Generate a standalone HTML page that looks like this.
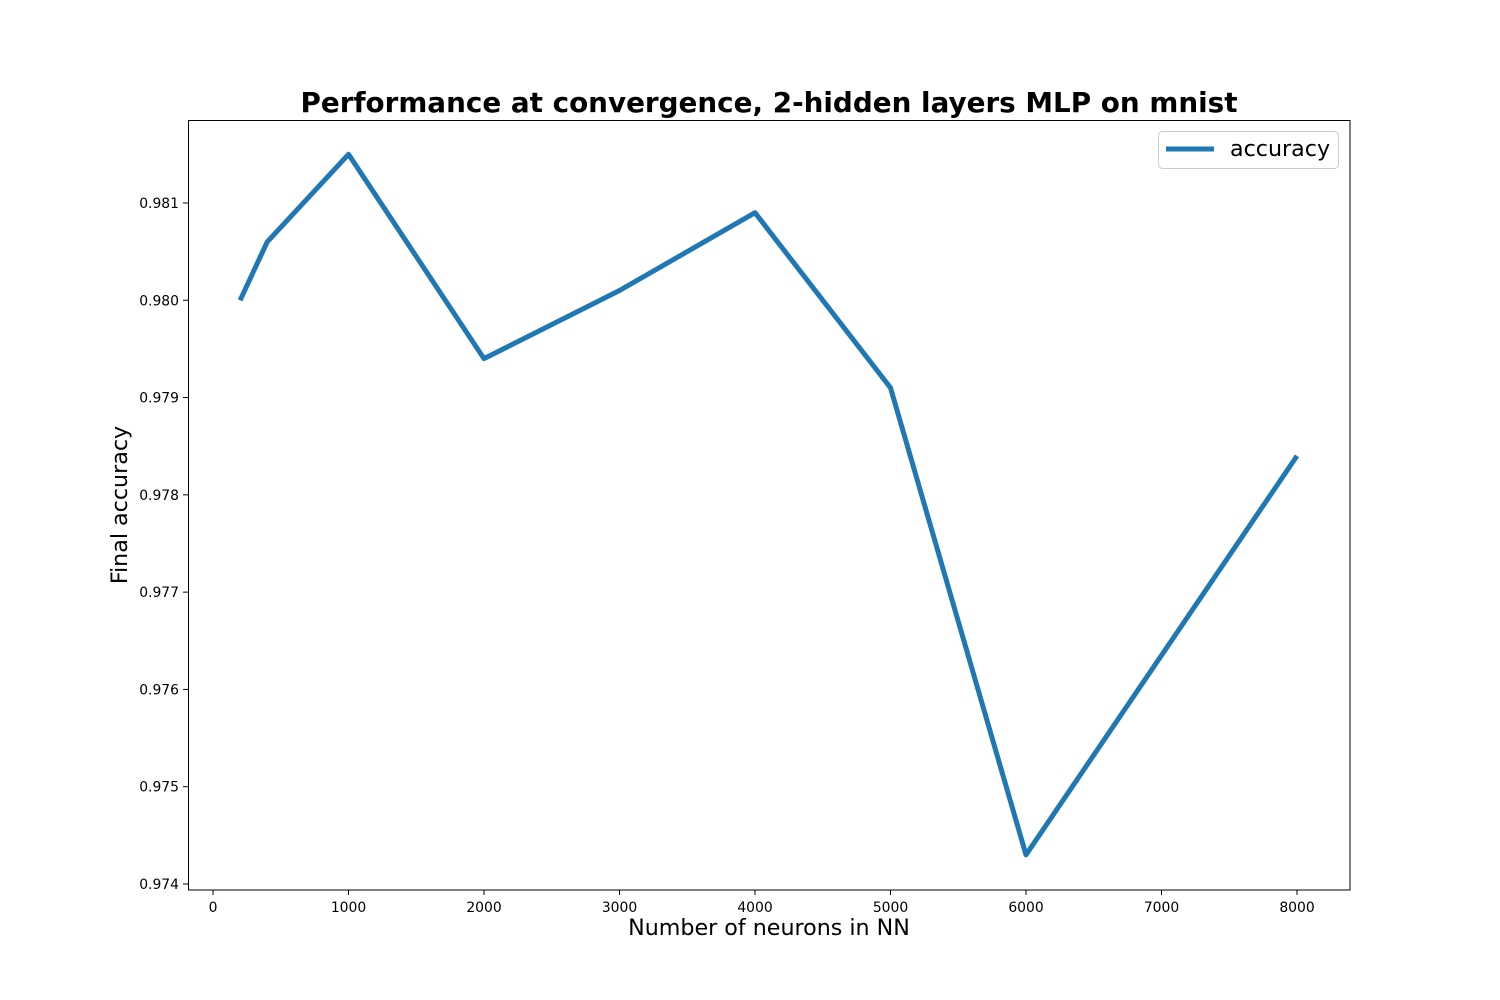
<!DOCTYPE html>
<html><head><meta charset="utf-8"><style>
html,body{margin:0;padding:0;background:#fff;}
svg{display:block;font-family:"DejaVu Sans","Liberation Sans",sans-serif;}
</style></head><body>
<svg id="chart" width="1500" height="1000" xmlns="http://www.w3.org/2000/svg">
<text x="769" y="112" text-anchor="middle" font-size="27.8" font-weight="bold">Performance at convergence, 2-hidden layers MLP on mnist</text>
<rect x="188.5" y="120.5" width="1161.5" height="769.5" fill="none" stroke="#000" stroke-width="1"/>
<g id="xticks"></g>
<g id="yticks"></g>
<polyline id="line" fill="none" stroke="#1f77b4" stroke-width="5" stroke-linejoin="round"/>
<text x="769" y="935" text-anchor="middle" font-size="22.2">Number of neurons in NN</text>
<text transform="translate(127,505) rotate(-90)" text-anchor="middle" font-size="22.2">Final accuracy</text>
<g>
<rect x="1158.5" y="131.5" width="180" height="37" rx="4" fill="#fff" stroke="#ccc"/>
<line x1="1166" y1="149" x2="1214" y2="149" stroke="#1f77b4" stroke-width="5"/>
<text x="1230" y="156" font-size="22.2">accuracy</text>
</g>
</svg>
<script>
const xValues = [200, 400, 1000, 2000, 3000, 4000, 5000, 6000, 8000];
const accuracy = [0.9800, 0.9806, 0.9815, 0.9794, 0.9801, 0.9809, 0.9791, 0.9743, 0.9784];
const xTicks = [0, 1000, 2000, 3000, 4000, 5000, 6000, 7000, 8000];
const yTicks = [0.974, 0.975, 0.976, 0.977, 0.978, 0.979, 0.980, 0.981];

const ns = "http://www.w3.org/2000/svg";
function xs(v){ return 213 + v * 0.1355; }
function ys(v){ return 884 - (v - 0.974) * 97290; }

const pts = xValues.map((x,i)=> xs(x).toFixed(1)+","+ys(accuracy[i]).toFixed(1)).join(" ");
document.getElementById("line").setAttribute("points", pts);

const xg = document.getElementById("xticks");
xTicks.forEach(t=>{
  const l = document.createElementNS(ns,"line");
  
  
  l.setAttribute("x1", xs(t)); l.setAttribute("x2", xs(t));
  l.setAttribute("y1", 890); l.setAttribute("y2", 895);
  l.setAttribute("stroke","#000");
  xg.appendChild(l);
  const tx = document.createElementNS(ns,"text");
  
  
  tx.setAttribute("x", xs(t)); tx.setAttribute("y", 912);
  tx.setAttribute("text-anchor","middle"); tx.setAttribute("font-size","13.9");
  tx.textContent = t;
  xg.appendChild(tx);
});
const yg = document.getElementById("yticks");
yTicks.forEach(t=>{
  const l = document.createElementNS(ns,"line");
  
  
  l.setAttribute("x1", 183); l.setAttribute("x2", 188);
  l.setAttribute("y1", ys(t)); l.setAttribute("y2", ys(t));
  l.setAttribute("stroke","#000");
  yg.appendChild(l);
  const tx = document.createElementNS(ns,"text");
  
  
  tx.setAttribute("x", 179); tx.setAttribute("y", ys(t)+5);
  tx.setAttribute("text-anchor","end"); tx.setAttribute("font-size","13.9");
  tx.textContent = t.toFixed(3);
  yg.appendChild(tx);
});
</script>
</body></html>
